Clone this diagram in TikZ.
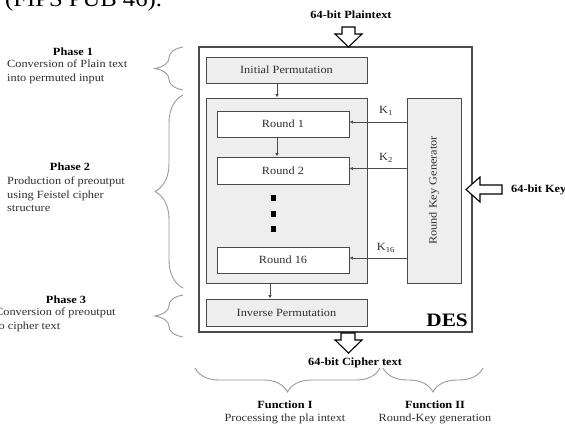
\documentclass[tikz,border=0pt]{standalone}
\usepackage{fontspec}
\setmainfont[FakeStretch=1.12]{Liberation Serif}
\usetikzlibrary{decorations.pathreplacing,arrows.meta}
\definecolor{boxline}{HTML}{4A4A4A}
\definecolor{lightfill}{HTML}{EEEEEE}
\definecolor{bracegray}{HTML}{9A9A9A}
\definecolor{txt}{HTML}{303030}
\begin{document}
\begin{tikzpicture}[x=1pt,y=-1pt,
  box/.style={draw=boxline,line width=0.9pt,fill=lightfill,inner sep=0pt,text=txt,font=\fontsize{11}{13}\selectfont},
  wbox/.style={box,fill=white},
  lbl/.style={inner sep=0pt,text=txt,font=\fontsize{11}{13}\selectfont},
  blbl/.style={inner sep=0pt,text=black,font=\fontsize{11}{13}\selectfont\bfseries},
  para/.style={inner sep=0pt,text=txt,align=left,anchor=north west,font=\fontsize{11}{13.5}\selectfont},
  arr/.style={line width=0.8pt,draw=boxline,-{Latex[length=3.5pt,width=3.5pt]}},
  bigarr/.style={draw=black,line width=1.1pt,fill=white,line join=miter},
  phbrace/.style={draw=bracegray,line width=0.9pt,decorate,decoration={brace,amplitude=28pt}},
  fnbrace/.style={draw=bracegray,line width=0.9pt,decorate,decoration={brace,amplitude=24pt}},
  dot/.style={fill=black,inner sep=0pt,minimum width=5pt,minimum height=6pt}]
\useasboundingbox (0,0) rectangle (565,432);
\fill[white] (0,0) rectangle (565,432);

% cropped caption at the top
\node[anchor=base west,inner sep=0pt,font=\fontsize{22}{24}\selectfont] (cap) at (5,6) {(FIPS PUB 46).};

% DES frame
\node[draw=boxline,line width=1.1pt,fill=white,minimum width=273pt,minimum height=285pt,inner sep=0pt] (des) at (335.5,189.5) {};
\node[anchor=south east,inner sep=0pt,font=\fontsize{19}{20}\selectfont\bfseries] (deslbl) at (468,327) {DES};

% boxes
\node[box,minimum width=161pt,minimum height=26pt] (ip) at (286.5,70) {Initial Permutation};
\node[box,minimum width=161pt,minimum height=185pt] (feistel) at (286.5,190.5) {};
\node[wbox,minimum width=132pt,minimum height=26pt] (r1) at (283,124) {Round 1};
\node[wbox,minimum width=132pt,minimum height=27pt] (r2) at (283,170.5) {Round 2};
\node[wbox,minimum width=132pt,minimum height=26pt] (r16) at (283,260) {Round 16};
\node[box,minimum width=161pt,minimum height=27pt] (inv) at (286.5,312.5) {Inverse Permutation};
\node[box,minimum width=54pt,minimum height=185pt] (rkg) at (434,190.5) {};
\node[lbl,rotate=90] (rkglbl) at (rkg.center) {Round Key Generator};

\node[dot] (d1) at (273,198) {};
\node[dot] (d2) at (273,213.5) {};
\node[dot] (d3) at (273,229) {};

% internal arrows
\coordinate (ca) at (277,0);
\coordinate (cb) at (270,0);
\draw[arr] (ip.south -| ca) -- (feistel.north -| ca);
\draw[arr] (r1.south -| ca) -- (r2.north -| ca);
\draw[arr] (feistel.south -| cb) -- (inv.north -| cb);

\coordinate (k1y) at (0,122);
\coordinate (k2y) at (0,168.5);
\coordinate (k16y) at (0,258);
\draw[arr] (rkg.west |- k1y) -- (r1.east |- k1y);
\draw[arr] (rkg.west |- k2y) -- (r2.east |- k2y);
\draw[arr] (rkg.west |- k16y) -- (r16.east |- k16y);
\node[lbl] (k1) at (386,111) {K\textsubscript{1}};
\node[lbl] (k2) at (386,158) {K\textsubscript{2}};
\node[lbl] (k16) at (386,248) {K\textsubscript{16}};

% hollow block arrows
\draw[bigarr] (342,27) -- (355,27) -- (355,34) -- (362,34) -- (348.5,47) -- (335,34) -- (342,34) -- cycle;
\draw[bigarr] (341,333) -- (355,333) -- (355,340) -- (362,340) -- (348.5,353) -- (335,340) -- (341,340) -- cycle;
\draw[bigarr] (502,185) -- (480,185) -- (480,177) -- (466,189.5) -- (480,202) -- (480,194) -- (502,194) -- cycle;

\node[blbl] (pt) at (351,15) {64-bit Plaintext};
\node[blbl,anchor=west] (key) at (511,189.5) {64-bit Key};
\node[blbl,anchor=west] (ct) at (308,363) {64-bit Cipher text};

% phase braces
\draw[phbrace] (183,90) -- (183,47);
\draw[phbrace] (183,288) -- (183,95);
\draw[phbrace] (183,337) -- (183,295);

% phase texts
\node[blbl] (p1) at (73,52) {Phase 1};
\node[para] (p1t) at (7,60) {Conversion of Plain text\\into permuted input};
\node[blbl] (p2) at (70,167) {Phase 2};
\node[para] (p2t) at (7,177) {Production of preoutput\\using Feistel cipher\\structure};
\node[blbl] (p3) at (66,300) {Phase 3};
\node[para] (p3t) at (-5,308) {Conversion of preoutput\\to cipher text};

% function braces
\draw[fnbrace] (380,368) -- (195,368);
\draw[fnbrace] (483,368) -- (383,368);
\node[blbl] (f1) at (285,405) {Function I};
\node[lbl] (f1t) at (285,419) {Processing the pla intext};
\node[blbl] (f2) at (435,405) {Function II};
\node[lbl] (f2t) at (435,419) {Round-Key generation};
\end{tikzpicture}
\end{document}
